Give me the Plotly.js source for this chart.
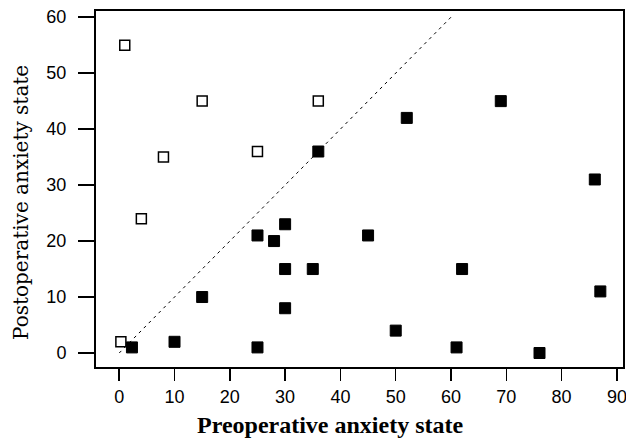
<!DOCTYPE html>
<html>
<head>
<meta charset="utf-8">
<script src="https://cdn.plot.ly/plotly-3.0.1.min.js"></script>
<style>html,body{margin:0;padding:0;background:#fff;}#chart{width:626px;height:442px;}</style>
</head>
<body>
<div id="chart"></div>
<script>
// Open squares (above the line of identity)
var openX = [1, 15, 36, 8, 25, 4, 0.3];
var openY = [55, 45, 45, 35, 36, 24, 2];
// Filled squares
var filledX = [2.3, 10, 15, 25, 28, 30, 30, 35, 30, 25, 36, 45, 52, 69, 86, 62, 87, 50, 61, 76];
var filledY = [1, 2, 10, 21, 20, 23, 15, 15, 8, 1, 36, 21, 42, 45, 31, 15, 11, 4, 1, 0];
// Identity line
var refX = [0, 60];
var refY = [0, 60];
var xTicks = [0, 10, 20, 30, 40, 50, 60, 70, 80, 90];
var yTicks = [0, 10, 20, 30, 40, 50, 60];
var xTitle = 'Preoperative anxiety state';
var yTitle = 'Postoperative anxiety state';

var traces = [
  {x: refX, y: refY, mode: 'lines', line: {color: '#000', width: 1, dash: '3px,4px'}, hoverinfo: 'skip'},
  {x: openX, y: openY, mode: 'markers', marker: {symbol: 'square', size: 10, color: '#fff', line: {color: '#000', width: 1.5}}},
  {x: filledX, y: filledY, mode: 'markers', marker: {symbol: 'square', size: 11, color: '#000', line: {color: '#000', width: 1}}}
];

var layout = {
  width: 626, height: 442,
  margin: {l: 96, r: 3, t: 11, b: 75},
  paper_bgcolor: '#fff', plot_bgcolor: '#fff',
  showlegend: false,
  xaxis: {
    range: [-4.2, 91.1], tickvals: xTicks, ticktext: xTicks.map(String),
    showgrid: false, zeroline: false, ticklabeloverflow: 'allow',
    showline: true, mirror: true, linecolor: '#000', linewidth: 2,
    ticks: 'outside', ticklen: 12, tickwidth: 1.5, tickcolor: '#000',
    tickfont: {family: 'Liberation Sans, Arial', size: 18, color: '#000'}
  },
  yaxis: {
    range: [-2.5, 61.1], tickvals: yTicks, ticktext: yTicks.map(String),
    showgrid: false, zeroline: false, ticklabeloverflow: 'allow',
    showline: true, mirror: true, linecolor: '#000', linewidth: 2,
    ticks: 'outside', ticklen: 16, tickwidth: 1.5, tickcolor: '#000',
    ticklabelstandoff: 8,
    tickfont: {family: 'Liberation Sans, Arial', size: 18, color: '#000'}
  },
  annotations: [
    {text: '<b>' + xTitle + '</b>', xref: 'paper', yref: 'paper', x: 330, y: 425,
     showarrow: false, font: {family: 'Liberation Serif, Times New Roman', size: 24, color: '#000'}},
    {text: yTitle, xref: 'paper', yref: 'paper', x: 21, y: 203, textangle: -90,
     showarrow: false, font: {family: 'DejaVu Serif', size: 20, color: '#000'}}
  ]
};
// convert pixel positions of titles to paper fractions
var pw = 626 - 96 - 3, ph = 442 - 11 - 75;
layout.annotations.forEach(function (a) {
  a.x = (a.x - 96) / pw;
  a.y = (442 - 75 - a.y) / ph;
  a.xanchor = 'center'; a.yanchor = 'middle';
});

Plotly.newPlot('chart', traces, layout, {displayModeBar: false, staticPlot: true});
</script>
</body>
</html>
